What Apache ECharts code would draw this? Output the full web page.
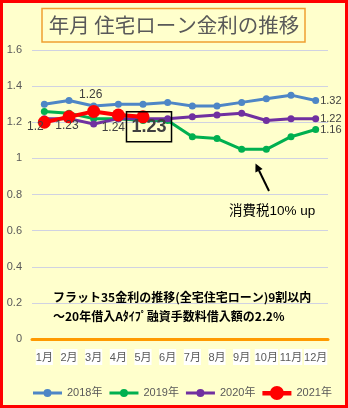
<!DOCTYPE html>
<html>
<head>
<meta charset="utf-8">
<script src="https://cdn.jsdelivr.net/npm/echarts@6/dist/echarts.min.js"></script>
<style>
  html, body { margin: 0; padding: 0; background: #FFFFCC; }
  #chart { width: 348px; height: 408px; }
</style>
</head>
<body>
<div id="chart"></div>
<script>
// 月ごとの金利 (%)
const months = ['1月', '2月', '3月', '4月', '5月', '6月', '7月', '8月', '9月', '10月', '11月', '12月'];
const seriesNames = ['2018年', '2019年', '2020年', '2021年'];
const rate2018 = [1.30, 1.32, 1.29, 1.30, 1.30, 1.31, 1.29, 1.29, 1.31, 1.33, 1.35, 1.32];
const rate2019 = [1.26, 1.25, 1.22, 1.22, 1.21, 1.21, 1.12, 1.11, 1.05, 1.05, 1.12, 1.16];
const rate2020 = [1.22, 1.22, 1.19, 1.22, 1.22, 1.22, 1.23, 1.24, 1.25, 1.21, 1.22, 1.22];
const rate2021 = [1.20, 1.23, 1.26, 1.24, 1.23];
const yTicks = { min: 0, max: 1.6, step: 0.2 };

const titleText = '年月 住宅ローン金利の推移';
const noteLine1 = 'フラット35金利の推移(全宅住宅ローン)9割以内';
const noteLine2 = '～20年借入Aﾀｲﾌﾟ融資手数料借入額の2.2%';
const taxNote = '消費税10% up';

const FONT = "'Liberation Sans', 'Noto Sans CJK JP', sans-serif";
const LABEL_COLOR = '#404040';
const colors = ['#4E86C6', '#00B050', '#7030A0', '#FF0000'];

// 2021年のラベル位置 (点からのずれ)
const labelOffsets2021 = [[-9, 4], [-2, 9], [-3, -17], [-5, 13], [6, 10]];

const smallLabel = { show: true, color: LABEL_COLOR, fontSize: 12, fontFamily: FONT };

function withEndLabel(values) {
  return values.map((v, i) => i === values.length - 1
    ? { value: v, label: Object.assign({}, smallLabel, { position: 'right', distance: 1, fontSize: 11 }) }
    : v);
}

const data2021 = rate2021.map((v, i) => {
  const last = i === rate2021.length - 1;
  const label = last
    ? { show: true, position: 'inside', offset: labelOffsets2021[i], color: LABEL_COLOR,
        fontSize: 18, fontWeight: 'bold', fontFamily: FONT, borderColor: '#000', borderWidth: 1.5,
        padding: [4, 5, 4, 5], lineHeight: 22 }
    : Object.assign({}, smallLabel, { position: 'inside', offset: labelOffsets2021[i] });
  return { value: v, label: label };
});

const normalIcon = 'path://M0,2.5L29,2.5L29,5.5L0,5.5Z M10.5,4 A4,4 0 1,1 18.5,4 A4,4 0 1,1 10.5,4Z';
const bigIcon = 'path://M0,5L29,5L29,9.5L0,9.5Z M7.5,7 A7,7 0 1,1 21.5,7 A7,7 0 1,1 7.5,7Z';

function lineSeries(name, data, color, width, size) {
  return {
    name: name, type: 'line', data: data,
    symbol: 'circle', symbolSize: size,
    lineStyle: { color: color, width: width },
    itemStyle: { color: color, borderWidth: 0 },
    label: { show: false },
    animation: false
  };
}

const chart = echarts.init(document.getElementById('chart'), null, { renderer: 'canvas' });

chart.setOption({
  backgroundColor: '#FFFFCC',
  textStyle: { fontFamily: FONT },
  grid: { left: 32, right: 20, top: 50, bottom: 69 },
  legend: {
    top: 381, left: 28, itemWidth: 29, itemHeight: 14, itemGap: 7,
    textStyle: { color: '#595959', fontSize: 11, fontFamily: FONT },
    itemStyle: { borderWidth: 0 },
    data: seriesNames.map((n, i) => ({ name: n, icon: i === 3 ? bigIcon : normalIcon }))
  },
  xAxis: {
    type: 'category', data: months, boundaryGap: true,
    axisLine: { show: true, lineStyle: { color: '#FF9900', width: 3 } },
    axisTick: { show: false },
    axisLabel: { color: '#595959', fontSize: 11, fontFamily: FONT, margin: 10,
      backgroundColor: '#FFFFFF', padding: [3, 0, 2, 0], interval: 0 },
    splitLine: { show: false }
  },
  yAxis: {
    type: 'value', min: yTicks.min, max: yTicks.max, interval: yTicks.step,
    axisLine: { show: false }, axisTick: { show: false },
    axisLabel: { color: '#595959', fontSize: 11, fontFamily: FONT, margin: 10 },
    splitLine: { lineStyle: { color: '#D0D2E2', width: 1 } }
  },
  series: [
    lineSeries(seriesNames[0], withEndLabel(rate2018), colors[0], 3, 7),
    lineSeries(seriesNames[1], withEndLabel(rate2019), colors[1], 3, 7),
    lineSeries(seriesNames[2], withEndLabel(rate2020), colors[2], 3, 7),
    Object.assign(lineSeries(seriesNames[3], data2021, colors[3], 4, 13), { z: 5 })
  ],
  graphic: [
    // 外枠
    { type: 'rect', shape: { x: 1.5, y: 1.5, width: 345, height: 405 },
      style: { fill: 'none', stroke: '#FF0000', lineWidth: 3 }, z: 100 },
    // タイトル枠
    { type: 'rect', shape: { x: 42, y: 8.5, width: 263, height: 33.5 },
      style: { fill: '#FFFFCC', stroke: '#F0A030', lineWidth: 1.5 }, z: 50 },
    { type: 'text', x: 174, y: 25.5, z: 51,
      style: { text: titleText, fontSize: 20.5, fontFamily: "'Noto Sans CJK JP', sans-serif",
        fill: '#595959', align: 'center', verticalAlign: 'middle' } },
    // 消費税の注記
    { type: 'line', shape: { x1: 269, y1: 191, x2: 259, y2: 170.5 },
      style: { stroke: '#000', lineWidth: 2 }, z: 50 },
    { type: 'polygon', shape: { points: [[255.5, 163.5], [262.6, 168.9], [255.4, 172.5]] },
      style: { fill: '#000' }, z: 50 },
    { type: 'text', x: 229, y: 211.5, z: 50,
      style: { text: taxNote, fontSize: 13.5, fontFamily: FONT, fill: '#000',
        align: 'left', verticalAlign: 'middle' } },
    // 下部の説明文
    { type: 'text', x: 53, y: 297.5, z: 50,
      style: { text: noteLine1, fontSize: 12, fontWeight: 'bold', fontFamily: "'Noto Sans CJK JP', sans-serif",
        fill: '#000', align: 'left', verticalAlign: 'middle' } },
    { type: 'text', x: 53, y: 316.5, z: 50,
      style: { text: noteLine2, fontSize: 12, fontWeight: 'bold', fontFamily: "'Noto Sans CJK JP', sans-serif",
        fill: '#000', align: 'left', verticalAlign: 'middle' } }
  ]
});
</script>
</body>
</html>
